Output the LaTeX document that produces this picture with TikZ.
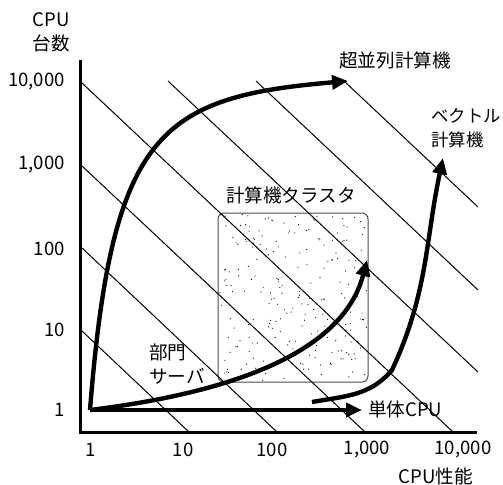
\documentclass[tikz,border=0pt]{standalone}
\usepackage{fontspec}
\setmainfont{Noto Sans CJK JP}
\usetikzlibrary{arrows.meta}

\begin{document}
\begin{tikzpicture}[x=5pt,y=5pt,font=\fontsize{9.3}{12}\selectfont,
	bigarrow/.style={line width=2.2pt,-{Triangle[length=8pt,width=7pt]}},
	diag/.style={line width=0.5pt}]
	\useasboundingbox (-8,-5.2) rectangle (42.3,43.2);
	% cluster box with scattered dots
	\draw[rounded corners=3pt,black!70,line width=0.5pt] (13.8,5) rectangle (28.8,21.9);
	\pgfmathsetseed{12}
	\foreach \k in {1,...,220} \fill ({13.9+14.8*rnd},{5.1+16.7*rnd}) circle (0.3pt);
	% lines of equal performance
	\draw[diag] (0.2,10.1) -- (10.9,0);
	\draw[diag] (0.2,18.4) -- (19.7,0);
	\draw[diag] (0.2,26.6) -- (28.5,0);
	\draw[diag] (0.2,34.9) -- (37.3,0);
	\draw[diag] (8.8,35.1) -- (39.8,6.0);
	\draw[diag] (17.6,35.1) -- (39.8,14.2);
	\draw[diag] (26.4,35.1) -- (39.8,22.5);
	% axes
	\draw[line width=1.5pt] (0,37.2) -- (0,0) -- (39.7,0);
	\node (ylabel) at (-2.9,40) [align=center] {CPU\\台数};
	\node (xlabel) at (35.6,-4.4) {CPU性能};
	\node (y4) at (-0.8,35) [anchor=east] {10,000};
	\node (y3) at (-0.8,26.7) [anchor=east] {1,000};
	\node (y2) at (-0.8,18.3) [anchor=east] {100};
	\node (y1) at (-0.8,10.2) [anchor=east] {10};
	\node (y0) at (-0.8,2.2) [anchor=east] {1};
	\node (x0) at (1.1,-1.8) {1};
	\node (x1) at (10.3,-1.8) {10};
	\node (x2) at (19.2,-1.8) {100};
	\node (x3) at (28.7,-1.8) {1,000};
	\node (x4) at (38.3,-1.8) {10,000};
	% growth paths
	\coordinate (origin) at (1,2.2);
	\coordinate (supertip) at (26.8,35.1);
	\coordinate (clustertip) at (28.7,17.2);
	\coordinate (singletip) at (28.2,2.2);
	\coordinate (vecstart) at (23.2,3.0);
	\coordinate (vecbend) at (31.2,6.2);
	\coordinate (vectip) at (36.3,27.4);
	\draw[bigarrow] (origin) .. controls (3.2,30) and (8,33.5) .. (supertip);
	\draw[bigarrow] (origin) .. controls (14,3.8) and (26.2,7.5) .. (clustertip);
	\draw[bigarrow] (origin) -- (singletip);
	\draw[bigarrow] (vecstart) to[out=10,in=230] (vecbend) to[out=65,in=258] (vectip);
	\node (super) at (31.5,37.2) {超並列計算機};
	\node (vector) at (35.1,30.4) [anchor=west,align=left,inner sep=0pt,font=\fontsize{8.7}{12}\selectfont] {ベクトル\\計算機};
	\node (cluster) at (21.1,23.7) {計算機クラスタ};
	\node (dept) at (6.2,6.75) [anchor=west,align=left] {部門\\サーバ};
	\node (single) at (28.1,2.3) [anchor=west] {単体CPU};
\end{tikzpicture}
\end{document}
